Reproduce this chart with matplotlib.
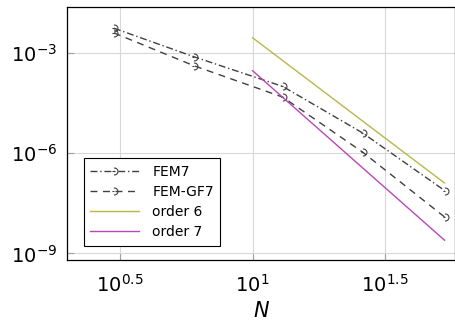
import numpy as np
import matplotlib.pyplot as plt
from matplotlib.path import Path

# data
N = [3, 6, 13, 26, 53]
fem7 = [5.4e-3, 7.6e-4, 9.8e-5, 4.0e-6, 7.6e-8]
femgf7 = [3.9e-3, 4.1e-4, 4.7e-5, 1.07e-6, 1.23e-8]
N_ref = [10, 53]
order6 = [2.8e-3, 1.27e-7]
order7 = [2.9e-4, 2.48e-9]

# half circle marker with a little stub
arc = Path.arc(-100, 100)
stub = Path([(-0.6, 0.0), (0.0, 0.0)], [Path.MOVETO, Path.LINETO])
halfc = Path.make_compound_path(arc, stub)

plt.rcParams['font.family'] = 'DejaVu Sans'
plt.rcParams['mathtext.fontset'] = 'dejavusans'

fig = plt.figure(figsize=(4.56, 3.28), dpi=100)
ax = fig.add_axes([0.147, 0.207, 0.851, 0.772])

gray = '#404040'
ax.loglog(N, fem7, color=gray, lw=1.0, ls=(0, (5, 2, 1, 2)), marker=halfc,
          ms=5, mfc='none', mew=0.8, label='FEM7')
ax.loglog(N, femgf7, color=gray, lw=1.0, ls=(0, (5, 4)), marker=halfc,
          ms=5, mfc='none', mew=0.8, label='FEM-GF7')
ax.loglog(N_ref, order6, color='#b8b848', lw=1.0, label='order 6')
ax.loglog(N_ref, order7, color='#b848b8', lw=1.0, label='order 7')

ax.set_xlim(10**0.3, 10**1.764)
ax.set_ylim(10**-9.2, 10**-1.63)
ax.set_xticks([10**0.5, 10**1, 10**1.5])
ax.set_xticklabels([r'$10^{0.5}$', r'$10^{1}$', r'$10^{1.5}$'])
ax.set_yticks([1e-3, 1e-6, 1e-9])
ax.set_yticklabels([r'$10^{-3}$', r'$10^{-6}$', r'$10^{-9}$'])
ax.minorticks_off()
ax.tick_params(labelsize=14, direction='in', length=5, color='#a0a0a0')
ax.tick_params(axis='x', pad=10)
ax.tick_params(axis='y', pad=7)
ax.grid(True, color='#d8d8d8', lw=0.8)
ax.set_axisbelow(True)
for s in ax.spines.values():
    s.set_linewidth(0.9)

ax.set_xlabel(r'$N$', fontsize=15, labelpad=4)

leg = ax.legend(loc='lower left', fontsize=10, fancybox=False, edgecolor='black',
                framealpha=1, handlelength=3.5, borderpad=0.45, labelspacing=0.45,
                handletextpad=1.0, bbox_to_anchor=(0.025, 0.03))
leg.get_frame().set_linewidth(0.8)

plt.savefig('out.png', dpi=100)
